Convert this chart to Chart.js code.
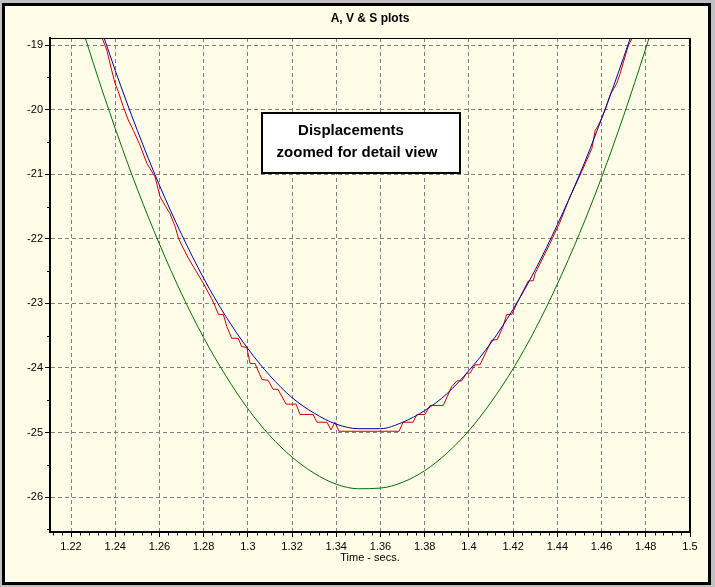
<!DOCTYPE html>
<html>
<head>
<meta charset="utf-8">
<title>A, V &amp; S plots</title>
<script src="https://cdn.jsdelivr.net/npm/chart.js@4.4.1/dist/chart.umd.min.js"></script>
<style>
  html, body { margin: 0; padding: 0; }
  body { width: 715px; height: 587px; background: #c0c0c0; position: relative; overflow: hidden; }
  .frame { position: absolute; left: 2px; top: 3px; width: 709px; height: 582px; box-sizing: border-box; border: 3px solid #000; background: #fffde8; }
  #chart { position: absolute; left: 0; top: 0; }
  .note { position: absolute; left: 261px; top: 112px; width: 200px; height: 62px; box-sizing: border-box; border: 2px solid #000; background: #fff;
          padding-top: 5px; font: bold 15px "Liberation Sans", Arial, sans-serif; line-height: 22px; color: #000; text-align: center; }
  .note .l1 { transform: translateX(-10px); }
  .note .l2 { transform: translateX(-4px); }
</style>
</head>
<body>
<div class="frame"></div>
<canvas id="chart" width="715" height="587"></canvas>
<div class="note"><div class="l1">Displacements</div><div class="l2">zoomed for detail view</div></div>
<script>
// sample times for the smooth curves (secs)
const timeT = [1.21, 1.22, 1.23, 1.24, 1.25, 1.26, 1.27, 1.28, 1.29, 1.30,
               1.31, 1.32, 1.33, 1.34, 1.35, 1.36, 1.37, 1.38, 1.39, 1.40,
               1.41, 1.42, 1.43, 1.44, 1.45, 1.46, 1.47, 1.48, 1.49, 1.50];
// blue curve
const blueY = [-16.08, -17.27, -18.37, -19.39, -20.32, -21.17, -21.93, -22.61, -23.20, -23.70,
               -24.12, -24.46, -24.70, -24.87, -24.94, -24.94, -24.84, -24.66, -24.40, -24.04,
               -23.61, -23.09, -22.48, -21.78, -21.01, -20.14, -19.19, -18.16, -17.03, -15.83];
// green curve
const greenY = [-16.96, -18.16, -19.27, -20.29, -21.23, -22.08, -22.85, -23.53, -24.12, -24.63,
                -25.05, -25.38, -25.63, -25.80, -25.87, -25.86, -25.77, -25.59, -25.32, -24.97,
                -24.53, -24.01, -23.40, -22.70, -21.92, -21.05, -20.09, -19.05, -17.93, -16.71];
// red stepped curve (its own time points)
const redT = [1.2330, 1.2342, 1.2362, 1.2384, 1.2399, 1.2414, 1.2437, 1.2459, 1.2482, 1.2512,
              1.2543, 1.2580, 1.2603, 1.2625, 1.2648, 1.2671, 1.2686, 1.2701, 1.2731, 1.2776,
              1.2799, 1.2844, 1.2867, 1.2889, 1.2905, 1.2927, 1.2957, 1.2972, 1.2995, 1.3010,
              1.3032, 1.3064, 1.3091, 1.3114, 1.3136, 1.3173, 1.3218, 1.3236, 1.3295, 1.3313,
              1.3358, 1.3376, 1.3394, 1.3412, 1.3684, 1.3702, 1.3747, 1.3765, 1.3801, 1.3824,
              1.3884, 1.3922, 1.3945, 1.3967, 1.3990, 1.4005, 1.4028, 1.4050, 1.4103, 1.4128,
              1.4153, 1.4171, 1.4194, 1.4224, 1.4269, 1.4291, 1.4299, 1.4367, 1.4412, 1.4457,
              1.4510, 1.4533, 1.4556, 1.4571, 1.4586, 1.4616, 1.4639, 1.4669, 1.4684, 1.4699,
              1.4722, 1.4737, 1.4750];
const redY = [-18.70, -18.90, -19.08, -19.39, -19.59, -19.72, -19.96, -20.16, -20.32, -20.55,
              -20.83, -21.04, -21.35, -21.48, -21.61, -21.81, -21.99, -22.10, -22.30, -22.56,
              -22.69, -22.98, -23.17, -23.17, -23.36, -23.54, -23.54, -23.67, -23.68, -23.93,
              -23.93, -24.18, -24.19, -24.33, -24.33, -24.56, -24.56, -24.72, -24.72, -24.84,
              -24.84, -24.96, -24.84, -24.98, -24.98, -24.84, -24.84, -24.72, -24.72, -24.58,
              -24.58, -24.29, -24.20, -24.20, -24.08, -24.08, -23.95, -23.95, -23.57, -23.56,
              -23.37, -23.17, -23.17, -22.95, -22.65, -22.65, -22.54, -22.07, -21.74, -21.35,
              -20.96, -20.78, -20.60, -20.32, -20.24, -20.01, -19.77, -19.59, -19.44, -19.26,
              -19.00, -18.90, -18.70];

// axes
const xTicks = [1.22, 1.24, 1.26, 1.28, 1.30, 1.32, 1.34, 1.36, 1.38, 1.40, 1.42, 1.44, 1.46, 1.48, 1.50];
const xTickLabels = ['1.22', '1.24', '1.26', '1.28', '1.3', '1.32', '1.34', '1.36', '1.38', '1.4', '1.42', '1.44', '1.46', '1.48', '1.5'];
const yTicks = [-26, -25, -24, -23, -22, -21, -20, -19];
const yTickLabels = ['-26', '-25', '-24', '-23', '-22', '-21', '-20', '-19'];
const xMinorStep = 0.004;
const yMinorStep = 0.5;

const FONT = '"Liberation Sans", Arial, sans-serif';

// top/right frame edges and the short minor ticks
const frameAndMinorTicks = {
  id: 'frameAndMinorTicks',
  afterDraw(chart) {
    const { ctx, chartArea: area } = chart;
    const xs = chart.scales.x, ys = chart.scales.y;
    ctx.save();
    ctx.strokeStyle = '#000';
    ctx.lineWidth = 1;
    ctx.beginPath();
    for (let k = Math.ceil(xs.min / xMinorStep - 1e-9); k * xMinorStep <= xs.max + 1e-9; k++) {
      const v = k * xMinorStep;
      if (xTicks.some(t => Math.abs(t - v) < 1e-6)) continue;
      const px = Math.round(xs.getPixelForValue(v)) + 0.5;
      ctx.moveTo(px, area.bottom);
      ctx.lineTo(px, area.bottom + 3.5);
    }
    for (let k = Math.ceil(ys.min / yMinorStep - 1e-9); k * yMinorStep <= ys.max + 1e-9; k++) {
      const v = k * yMinorStep;
      if (yTicks.some(t => Math.abs(t - v) < 1e-6)) continue;
      const py = Math.round(ys.getPixelForValue(v)) + 0.5;
      ctx.moveTo(area.left - 3, py);
      ctx.lineTo(area.left, py);
    }
    ctx.moveTo(area.left, area.top + 0.5);
    ctx.lineTo(area.right, area.top + 0.5);
    ctx.stroke();
    ctx.lineWidth = 2;
    ctx.beginPath();
    ctx.moveTo(area.right, area.top);
    ctx.lineTo(area.right, area.bottom);
    ctx.stroke();
    ctx.restore();
  }
};

const toPoints = (xs, ys) => xs.map((x, i) => ({ x: x, y: ys[i] }));

new Chart(document.getElementById('chart'), {
  type: 'line',
  data: {
    datasets: [
      { label: 'V', data: toPoints(timeT, blueY), borderColor: '#0000a8', borderWidth: 1, pointRadius: 0, cubicInterpolationMode: 'monotone' },
      { label: 'S', data: toPoints(redT, redY), borderColor: '#cc0000', borderWidth: 1, pointRadius: 0, tension: 0 },
      { label: 'A', data: toPoints(timeT, greenY), borderColor: '#007000', borderWidth: 1, pointRadius: 0, cubicInterpolationMode: 'monotone' }
    ]
  },
  options: {
    responsive: false,
    animation: false,
    devicePixelRatio: 1,
    layout: { padding: { left: 0, right: 25, top: 0, bottom: 0 } },
    plugins: {
      legend: { display: false },
      tooltip: { enabled: false },
      title: {
        display: true,
        fullSize: false,
        text: 'A, V & S plots',
        color: '#000',
        font: { family: FONT, size: 12, weight: 'bold', lineHeight: 1.2 },
        padding: { top: 11.8, bottom: 11.8 }
      }
    },
    scales: {
      x: {
        type: 'linear',
        min: 1.2105,
        max: 1.5,
        afterBuildTicks: axis => { axis.ticks = xTicks.map(v => ({ value: v })); },
        afterFit: axis => { axis.height = 55; },
        ticks: {
          autoSkip: false,
          maxRotation: 0,
          padding: 3,
          color: '#000',
          font: { family: FONT, size: 11 },
          callback: (v, i) => xTickLabels[i]
        },
        grid: { color: '#808080', lineWidth: 1, tickColor: '#000', tickLength: 5 },
        border: { display: true, color: '#000', width: 2, dash: [4, 3] },
        title: {
          display: true,
          text: 'Time - secs.',
          color: '#000',
          font: { family: FONT, size: 11, lineHeight: 1.2 },
          padding: { top: 0, bottom: 22 }
        }
      },
      y: {
        type: 'linear',
        min: -26.54,
        max: -18.89,
        afterBuildTicks: axis => { axis.ticks = yTicks.map(v => ({ value: v })); },
        afterFit: axis => { axis.width = 50; },
        ticks: {
          autoSkip: false,
          padding: 2,
          color: '#000',
          font: { family: FONT, size: 11 },
          callback: (v, i) => yTickLabels[i]
        },
        grid: { color: '#808080', lineWidth: 1, tickColor: '#000', tickLength: 5 },
        border: { display: true, color: '#000', width: 2, dash: [4, 3] }
      }
    }
  },
  plugins: [frameAndMinorTicks]
});
</script>
</body>
</html>
